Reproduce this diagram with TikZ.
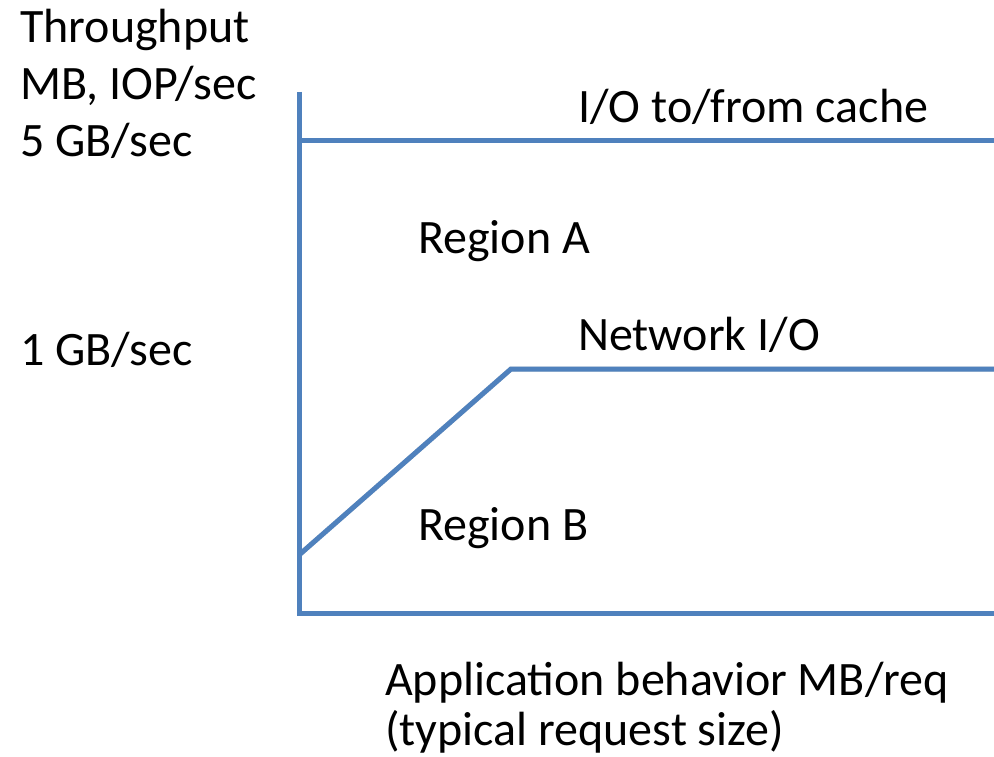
\documentclass[tikz,border=0pt]{standalone}
\usepackage{fontspec}
\setmainfont{Carlito}
\begin{document}
\begin{tikzpicture}[x=1pt,y=-1pt,
  lbl/.style={anchor=base west,inner sep=0pt,font=\fontsize{48}{57}\selectfont,align=left},
  curve/.style={draw=plotblue,line width=5pt},
  shade/.style={draw=black!14,line width=5pt},
]
\definecolor{plotblue}{HTML}{4F81BD}
\useasboundingbox (0,0) rectangle (994,757);

% corner points of the axes and the two throughput curves
\coordinate (ytop) at (299,92);
\coordinate (orig) at (299,613);
\coordinate (xend) at (994,613);
\coordinate (cacheL) at (299,141);
\coordinate (cacheR) at (994,141);
\coordinate (netL) at (299,555);
\coordinate (netK) at (511,369);
\coordinate (netR) at (994,369);

% soft drop shadow under the lines
\begin{scope}[shift={(1,3)}]
  \draw[shade] (ytop) -- (orig) -- (xend);
  \draw[shade] (cacheL) -- (cacheR);
  \draw[shade] (netL) -- (netK) -- (netR);
\end{scope}

% axes and curves
\draw[curve] (ytop) -- (orig) -- (xend);
\draw[curve] (cacheL) -- (cacheR);
\draw[curve] (netL) -- (netK) -- (netR);

% labels (base anchor of a multi-line node is its last line)
\node[lbl] (ylab) at (20,157) {Throughput\\MB, IOP/sec\\5 GB/sec};
\node[lbl] (onegb) at (20,365) {1 GB/sec};
\node[lbl] (cache) at (578,123) {I/O to/from cache};
\node[lbl] (rega) at (418,253) {Region A};
\node[lbl] (net) at (578,350) {Network I/O};
\node[lbl] (regb) at (418,540) {Region B};
\node[lbl,font=\fontsize{48}{50}\selectfont] (xlab) at (385,745)
  {Application behavior MB/req\\(typical request size)};
\end{tikzpicture}
\end{document}
